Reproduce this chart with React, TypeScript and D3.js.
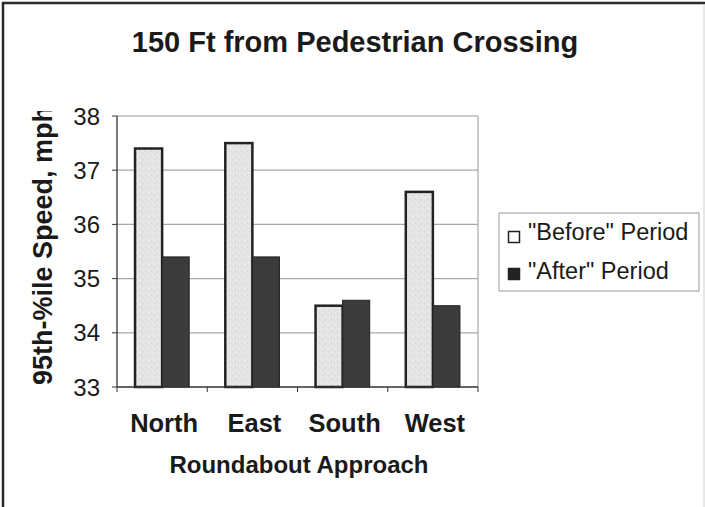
import React from "react";
import * as d3 from "d3";

const categories = ["North", "East", "South", "West"];
const seriesNames = ['"Before" Period', '"After" Period'];
const beforeValues = [37.4, 37.5, 34.5, 36.6];
const afterValues = [35.4, 35.4, 34.6, 34.5];
const yTicks = [33, 34, 35, 36, 37, 38];
const title = "150 Ft from Pedestrian Crossing";
const xTitle = "Roundabout Approach";
const yTitle = "95th-%ile Speed, mph";

const W = 705;
const H = 507;
const FONT = "'Liberation Sans', Arial, Helvetica, sans-serif";

export default function App() {
  const left = 117;
  const right = 478;
  const top = 116;
  const bottom = 387;

  const x0 = d3.scaleBand<string>().domain(categories).range([left, right]).paddingInner(0).paddingOuter(0);
  const bw = x0.bandwidth();
  const x1 = d3
    .scaleBand<string>()
    .domain(seriesNames)
    .range([bw * 0.2, bw * 0.8])
    .padding(0);
  const y = d3.scaleLinear().domain([33, 38]).range([bottom, top]);

  const series = [
    { name: seriesNames[0], values: beforeValues, fill: "#e3e3e3" },
    { name: seriesNames[1], values: afterValues, fill: "#3b3b3b" },
  ];

  const boundaries = d3.range(categories.length + 1).map((i) => left + i * bw);

  return (
    <svg width={W} height={H} style={{ position: "absolute", left: 0, top: 0, background: "#fff" }}>
      <defs>
        <clipPath id="ylabclip">
          <rect x={0} y={111} width={110} height={300} />
        </clipPath>
        <pattern id="speckle" width="6" height="6" patternUnits="userSpaceOnUse">
          <rect width="6" height="6" fill="#e4e4e4" />
          <rect x="1" y="1" width="1" height="1" fill="#cfcfcf" />
          <rect x="4" y="3" width="1" height="1" fill="#d2d2d2" />
          <rect x="2" y="4" width="1" height="1" fill="#f2f2f2" />
          <rect x="5" y="0" width="1" height="1" fill="#f0f0f0" />
        </pattern>
      </defs>
      <rect x={0} y={0} width={W} height={H} fill="#fff" />
      {/* outer frame */}
      <line x1={2} y1={3} x2={W} y2={3} stroke="#2a2a2a" strokeWidth={2.5} />
      <line x1={3} y1={2} x2={3} y2={H} stroke="#2a2a2a" strokeWidth={2.5} />
      <line x1={704} y1={4} x2={704} y2={H} stroke="#d0d0d0" strokeWidth={1} />

      {/* title */}
      <text x={355} y={52} textAnchor="middle" fontFamily={FONT} fontWeight="bold" fontSize={29} fill="#1a1a1a">
        {title}
      </text>

      {/* gridlines */}
      {yTicks.filter((t) => t !== 33).map((t) => (
        <line key={t} x1={left} x2={right} y1={y(t)} y2={y(t)} stroke={t === 38 ? "#9a9a9a" : "#a8a8a8"} strokeWidth={1.2} />
      ))}
      <line x1={right} x2={right} y1={top} y2={bottom} stroke="#a8a8a8" strokeWidth={1.2} />

      {/* bars */}
      {series.map((s) =>
        categories.map((c, i) => {
          const bx = (x0(c) as number) + (x1(s.name) as number);
          const by = y(s.values[i]);
          return (
            <rect
              key={s.name + c}
              x={bx}
              y={by}
              width={x1.bandwidth()}
              height={bottom - by}
              fill={s === series[0] ? "url(#speckle)" : s.fill}
              stroke="#222"
              strokeWidth={s === series[0] ? 2.5 : 1}
            />
          );
        })
      )}

      {/* axes */}
      <line x1={left} x2={left} y1={top} y2={bottom} stroke="#333" strokeWidth={1.3} />
      <line x1={left} x2={right} y1={bottom} y2={bottom} stroke="#333" strokeWidth={1.3} />
      {yTicks.map((t) => (
        <g key={t}>
          <line x1={left - 5} x2={left} y1={y(t)} y2={y(t)} stroke="#333" strokeWidth={1} />
          <text x={100} y={y(t) + 8.5} textAnchor="end" fontFamily={FONT} fontSize={24} fill="#1a1a1a">
            {t}
          </text>
        </g>
      ))}
      {boundaries.map((b, i) => (
        <line key={i} x1={b} x2={b} y1={bottom} y2={bottom + 5} stroke="#333" strokeWidth={1} />
      ))}
      {categories.map((c) => (
        <text
          key={c}
          x={(x0(c) as number) + bw / 2 + 2}
          y={432}
          textAnchor="middle"
          fontFamily={FONT}
          fontWeight="bold"
          fontSize={25.5}
          fill="#1a1a1a"
        >
          {c}
        </text>
      ))}

      {/* axis titles */}
      <text x={299} y={473} textAnchor="middle" fontFamily={FONT} fontWeight="bold" fontSize={24} fill="#1a1a1a">
        {xTitle}
      </text>
      <g clipPath="url(#ylabclip)">
        <text
          transform="translate(52,385) rotate(-90)"
          textAnchor="start"
          fontFamily={FONT}
          fontWeight="bold"
          fontSize={27}
          fill="#1a1a1a"
        >
          {yTitle}
        </text>
      </g>

      {/* legend */}
      <rect x={499} y={213} width={200} height={78} fill="#fff" stroke="#9a9a9a" strokeWidth={1} />
      {series.map((s, i) => (
        <g key={s.name}>
          <rect
            x={508.5}
            y={231.5 + i * 37}
            width={11}
            height={11}
            fill={i === 0 ? "#fff" : "#222"}
            stroke="#222"
            strokeWidth={1.5}
          />
          <text x={528} y={240 + i * 39} fontFamily={FONT} fontSize={23.5} fill="#1a1a1a">
            {s.name}
          </text>
        </g>
      ))}
    </svg>
  );
}
